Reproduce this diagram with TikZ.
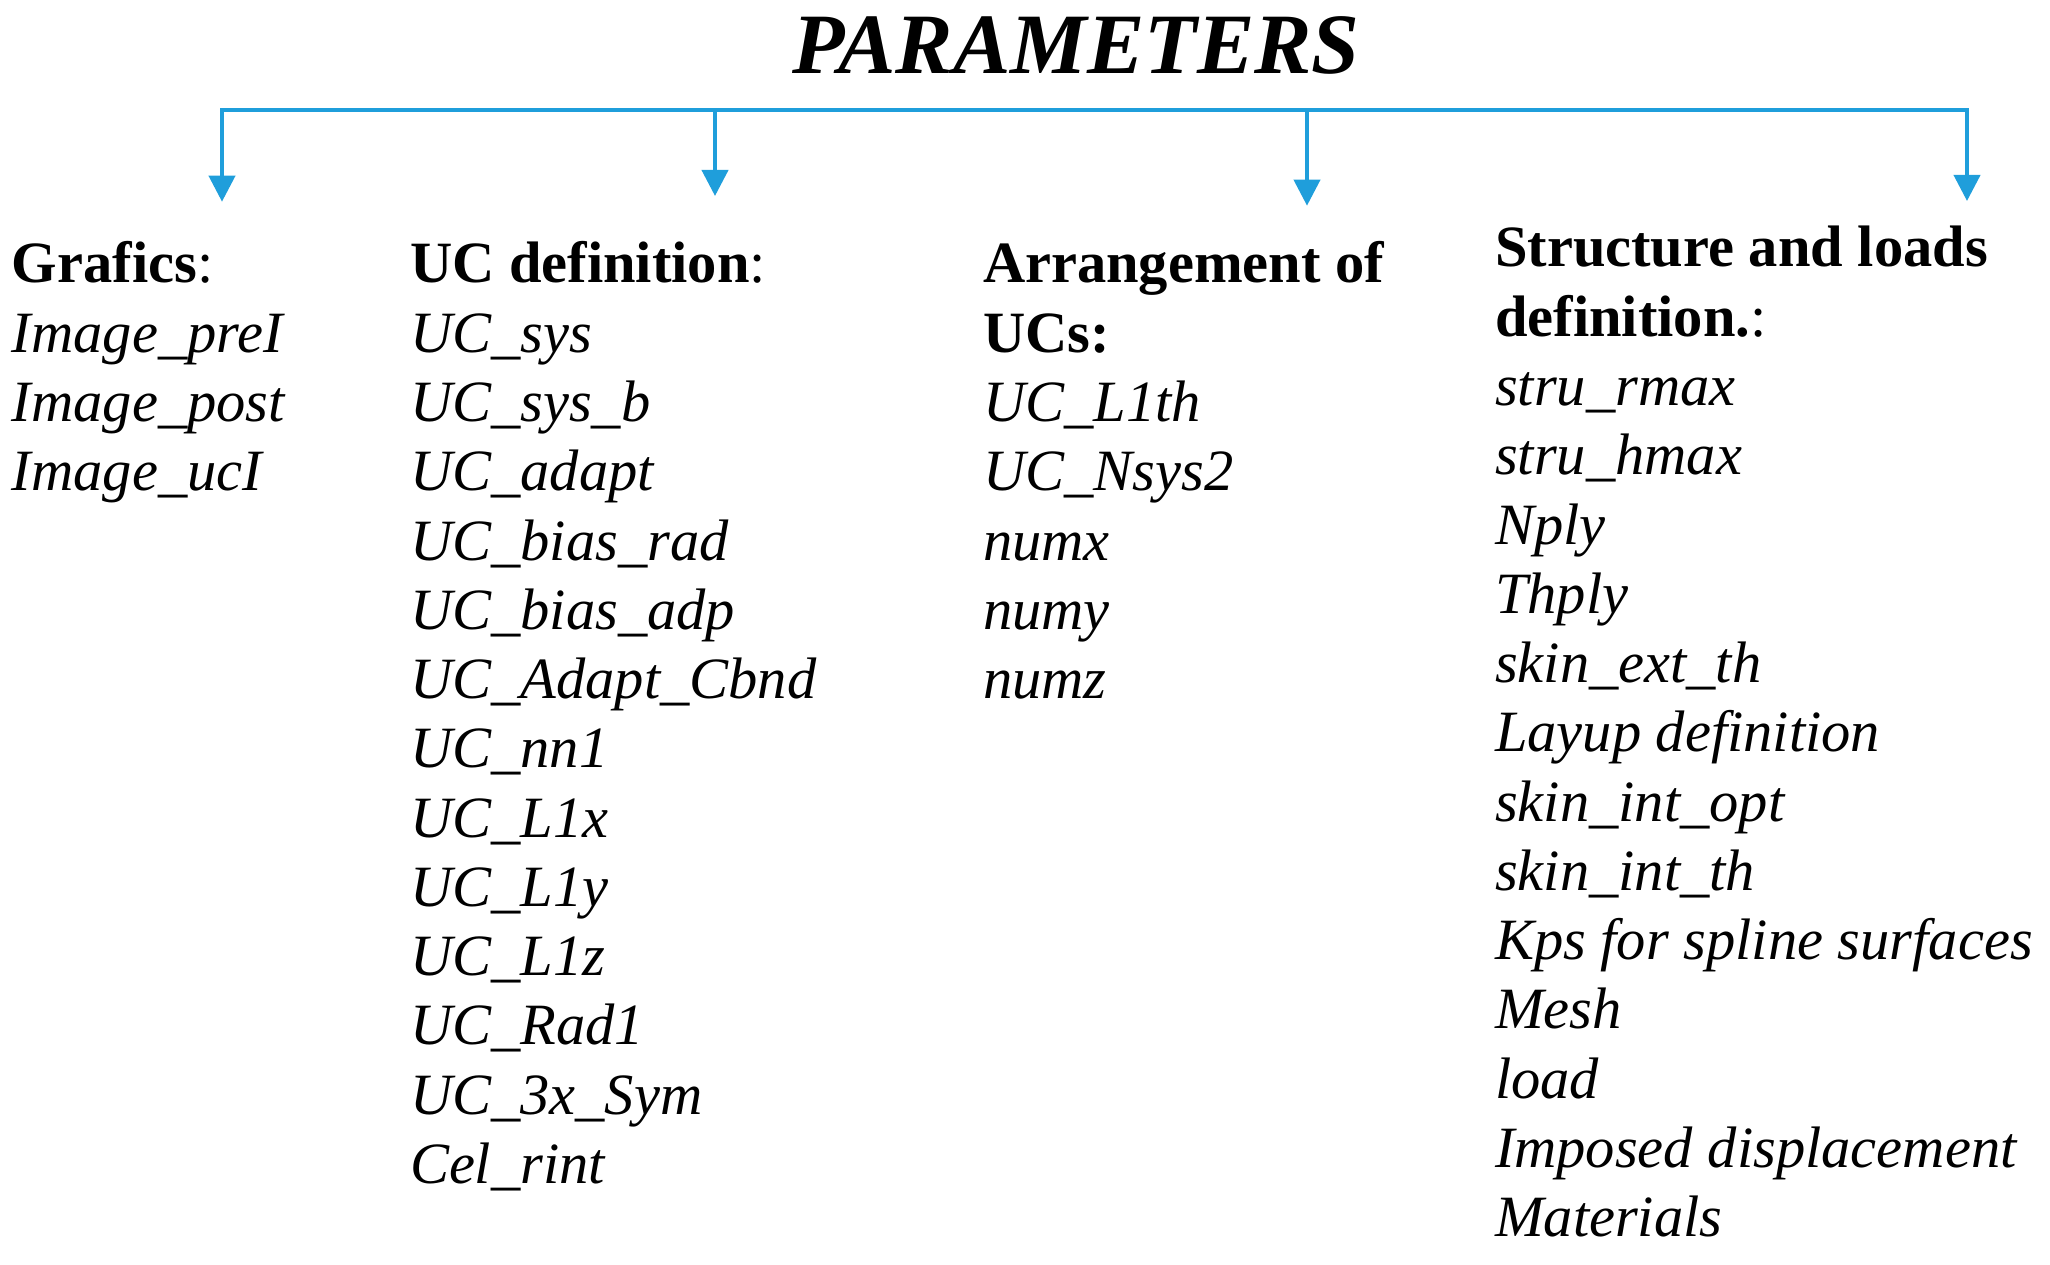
\documentclass[tikz,border=0pt]{standalone}
\usepackage{fontspec}
\setmainfont{Liberation Serif}
\usetikzlibrary{arrows.meta}
\definecolor{arrowblue}{RGB}{31,158,219}
\begin{document}
\begin{tikzpicture}[x=1pt,y=-1pt,
  item/.style={anchor=base west, inner sep=0pt, outer sep=0pt, font=\fontsize{58.5}{69}\selectfont\itshape},
  head/.style={anchor=base west, inner sep=0pt, outer sep=0pt, font=\fontsize{58.5}{69}\selectfont},
  bus/.style={draw=arrowblue, line width=4pt, line join=miter},
  conn/.style={bus, -{Triangle[length=26pt,width=26pt]}},
  bothconn/.style={bus, {Triangle[length=26pt,width=26pt]}-{Triangle[length=26pt,width=26pt]}},
  ]
\useasboundingbox (0,0) rectangle (2050,1265);
% title
\node[anchor=base, inner sep=0pt, font=\fontsize{86}{90}\selectfont\bfseries\itshape] (title) at (1076,73.5) {PARAMETERS};
% connectors
\coordinate (busL) at (222,110);
\coordinate (busR) at (1967,110);
\coordinate (b2) at (715,110);
\coordinate (b3) at (1307,110);
\coordinate (t1) at (222,201.7);
\coordinate (t2) at (715,196);
\coordinate (t3) at (1307,205.7);
\coordinate (t4) at (1967,201);
\draw[bothconn] (t1) -- (busL) -- (busR) -- (t4);
\draw[conn] (b2) -- (t2);
\draw[conn] (b3) -- (t3);
% column 1
\node[head] (graf) at (12,283) {\textbf{Grafics}:};
\foreach \t [count=\i] in {Image\_preI, Image\_post, Image\_ucI}
  \node[item] (graf\i) at (12,{283+69.25*\i}) {\t};
% column 2
\node[head] (ucdef) at (410,283) {\textbf{UC definition}:};
\foreach \t [count=\i] in {UC\_sys, UC\_sys\_b, UC\_adapt, UC\_bias\_rad, UC\_bias\_adp, UC\_Adapt\_Cbnd, UC\_nn1, UC\_L1x, UC\_L1y, UC\_L1z, UC\_Rad1, UC\_3x\_Sym, Cel\_rint}
  \node[item] (ucdef\i) at (410,{283+69.25*\i}) {\t};
% column 3
\node[head] (arrA) at (983,283) {\textbf{Arrangement of}};
\node[head] (arrB) at (983,352.25) {\textbf{UCs:}};
\foreach \t [count=\i] in {UC\_L1th, UC\_Nsys2, numx, numy, numz}
  \node[item] (arr\i) at (983,{352.25+69.25*\i}) {\t};
% column 4
\node[head] (strA) at (1495,267) {\textbf{Structure and loads}};
\node[head] (strB) at (1495,336.25) {\textbf{definition.}:};
\foreach \t [count=\i] in {stru\_rmax, stru\_hmax, Nply, Thply, skin\_ext\_th, Layup definition, skin\_int\_opt, skin\_int\_th, Kps for spline surfaces, Mesh, load, Imposed displacement, Materials}
  \node[item] (str\i) at (1495,{336.25+69.25*\i}) {\t};
\end{tikzpicture}
\end{document}
